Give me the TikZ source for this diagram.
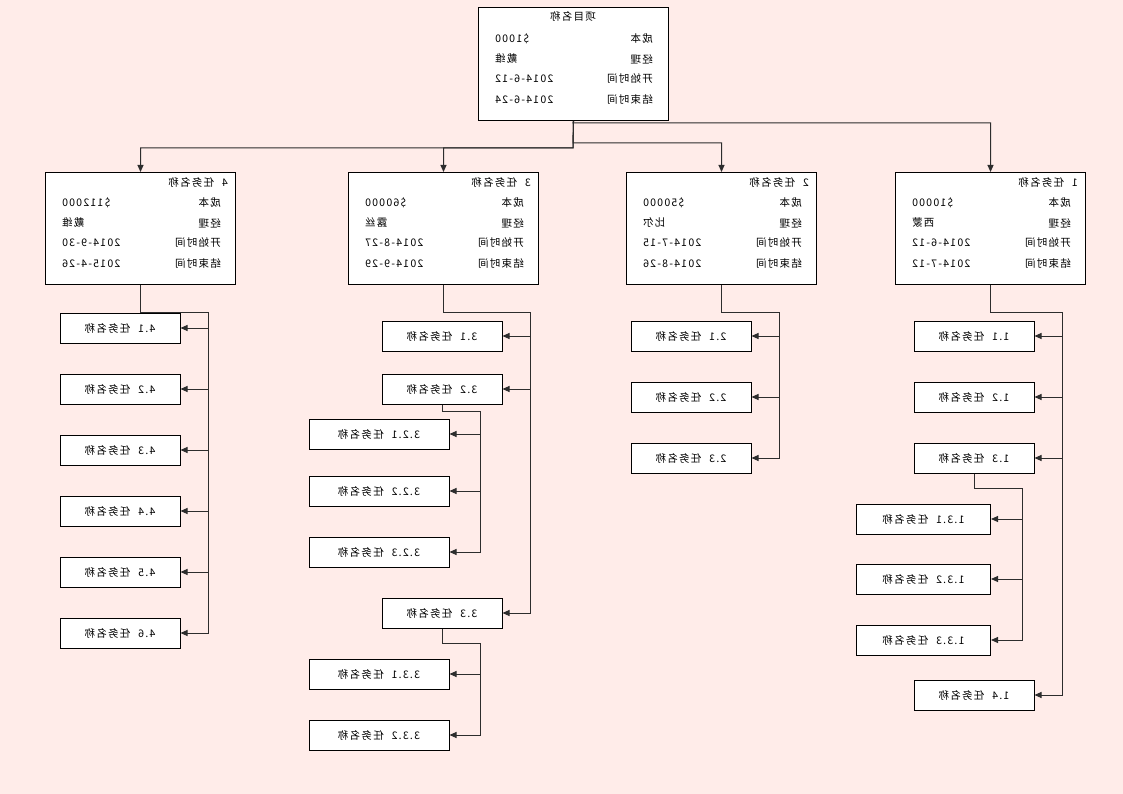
\documentclass[tikz,border=0pt]{standalone}
\usepackage{graphicx}
\usepackage{fontspec}
\setmainfont{Noto Sans CJK SC}[LetterSpace=12, WordSpace=2.2]
\usetikzlibrary{arrows.meta, positioning}

\definecolor{bgpink}{RGB}{255,236,233}
\definecolor{linkgray}{RGB}{45,45,45}

% detail card: name, left x, top y, header, cost, manager, start, end
\newcommand{\taskcard}[8]{%
  \node[card, anchor=north west] (#1) at (#2,#3) {};
  \node[lbl] (#1-h) at ([xshift=-8pt,yshift=-11pt]#1.north east) {\reflectbox{#4}};
  \node[lbl] (#1-cl) at ([xshift=-15pt,yshift=-31pt]#1.north east) {\reflectbox{成本}};
  \node[lbl] (#1-ml) at ([xshift=-15pt,yshift=-51pt]#1.north east) {\reflectbox{经理}};
  \node[lbl] (#1-sl) at ([xshift=-15pt,yshift=-71pt]#1.north east) {\reflectbox{开始时间}};
  \node[lbl] (#1-el) at ([xshift=-15pt,yshift=-92pt]#1.north east) {\reflectbox{结束时间}};
  \node[val] (#1-cv) at ([xshift=17pt,yshift=-31pt]#1.north west) {\reflectbox{#5}};
  \node[val] (#1-mv) at ([xshift=17pt,yshift=-51pt]#1.north west) {\reflectbox{#6}};
  \node[val] (#1-sv) at ([xshift=17pt,yshift=-71pt]#1.north west) {\reflectbox{#7}};
  \node[val] (#1-ev) at ([xshift=17pt,yshift=-92pt]#1.north west) {\reflectbox{#8}};
}

\begin{document}
\begin{tikzpicture}[
        x=1pt, y=-1pt,
        font=\fontsize{10.5pt}{12pt}\selectfont,
        card/.style={draw, fill=white, line width=1pt, minimum width=190pt, minimum height=112pt, inner sep=0pt},
        task/.style={draw, fill=white, line width=1pt, minimum width=120pt, minimum height=30pt, inner sep=0pt},
        subtask/.style={task, minimum width=140pt},
        lbl/.style={anchor=east, inner sep=0pt},
        val/.style={anchor=west, inner sep=0pt},
        link/.style={draw=linkgray, line width=1pt, -{Triangle[length=7pt, width=6pt]}}
    ]

    % Background
    \fill[bgpink] (0,0) rectangle (1123,794);
    \useasboundingbox (0,0) rectangle (1123,794);

    % Project card
    \node[card, minimum height=113pt, anchor=north west] (proj) at (478,7) {};
    \node[inner sep=0pt] (proj-h) at (573,17) {\reflectbox{项目名称}};
    \node[lbl] (proj-cl) at (653,39) {\reflectbox{成本}};
    \node[lbl] (proj-ml) at (653,59) {\reflectbox{经理}};
    \node[lbl] (proj-sl) at (653,79) {\reflectbox{开始时间}};
    \node[lbl] (proj-el) at (653,100) {\reflectbox{结束时间}};
    \node[val] (proj-cv) at (495,39) {\reflectbox{\$1000}};
    \node[val] (proj-mv) at (495,59) {\reflectbox{戴维}};
    \node[val] (proj-sv) at (495,79) {\reflectbox{2014-6-12}};
    \node[val] (proj-ev) at (495,100) {\reflectbox{2014-6-24}};

    % Task cards
    \taskcard{t4}{45}{172}{4 任务名称}{\$112000}{戴维}{2014-9-30}{2015-4-26}
    \taskcard{t3}{348}{172}{3 任务名称}{\$60000}{露丝}{2014-8-27}{2014-9-29}
    \taskcard{t2}{626}{172}{2 任务名称}{\$50000}{比尔}{2014-7-15}{2014-8-26}
    \taskcard{t1}{895}{172}{1 任务名称}{\$10000}{西蒙}{2014-6-12}{2014-7-12}

    % Junctions
    \coordinate (j1) at (573,123);
    \coordinate (j2) at (573,143);
    \coordinate (j34) at (573,148);
    \coordinate (b4) at (208,312);
    \coordinate (b3) at (530,312);
    \coordinate (b2) at (779,312);
    \coordinate (b1) at (1062,312);
    \coordinate (b32) at (480,411);
    \coordinate (b33) at (480,643);
    \coordinate (b13) at (1022,488);

    % Project -> tasks
    \draw[link] (proj.south) -- (j1) -| (t1.north);
    \draw[link] (proj.south) -- (j2) -| (t2.north);
    \draw[link] (proj.south) -- (j34) -| (t3.north);
    \draw[link] (proj.south) -- (j34) -| (t4.north);

    % Task 4
    \foreach \i/\y in {1/328, 2/389, 3/450, 4/511, 5/572, 6/633} {
        \node[task] (t4\i) at (120,\y) {\reflectbox{4.\i\ 任务名称}};
        \draw[link] (t4.south) |- (b4) |- (t4\i.east);
    }

    % Task 3
    \node[task] (t31) at (442,336) {\reflectbox{3.1 任务名称}};
    \node[task] (t32) at (442,389) {\reflectbox{3.2 任务名称}};
    \node[task] (t33) at (442,613) {\reflectbox{3.3 任务名称}};
    \draw[link] (t3.south) |- (b3) |- (t31.east);
    \draw[link] (t3.south) |- (b3) |- (t32.east);
    \draw[link] (t3.south) |- (b3) |- (t33.east);
    \foreach \i/\y in {1/434, 2/491, 3/552} {
        \node[subtask] (t32\i) at (379,\y) {\reflectbox{3.2.\i\ 任务名称}};
        \draw[link] (t32.south) |- (b32) |- (t32\i.east);
    }
    \foreach \i/\y in {1/674, 2/735} {
        \node[subtask] (t33\i) at (379,\y) {\reflectbox{3.3.\i\ 任务名称}};
        \draw[link] (t33.south) |- (b33) |- (t33\i.east);
    }

    % Task 2
    \foreach \i/\y in {1/336, 2/397, 3/458} {
        \node[task] (t2\i) at (691,\y) {\reflectbox{2.\i\ 任务名称}};
        \draw[link] (t2.south) |- (b2) |- (t2\i.east);
    }

    % Task 1
    \foreach \i/\y in {1/336, 2/397, 3/458, 4/695} {
        \node[task] (t1\i) at (974,\y) {\reflectbox{1.\i\ 任务名称}};
        \draw[link] (t1.south) |- (b1) |- (t1\i.east);
    }
    \foreach \i/\y in {1/519, 2/579, 3/640} {
        \node[subtask, minimum width=134pt] (t13\i) at (923.5,\y) {\reflectbox{1.3.\i\ 任务名称}};
        \draw[link] (t13.south) |- (b13) |- (t13\i.east);
    }

\end{tikzpicture}
\end{document}
